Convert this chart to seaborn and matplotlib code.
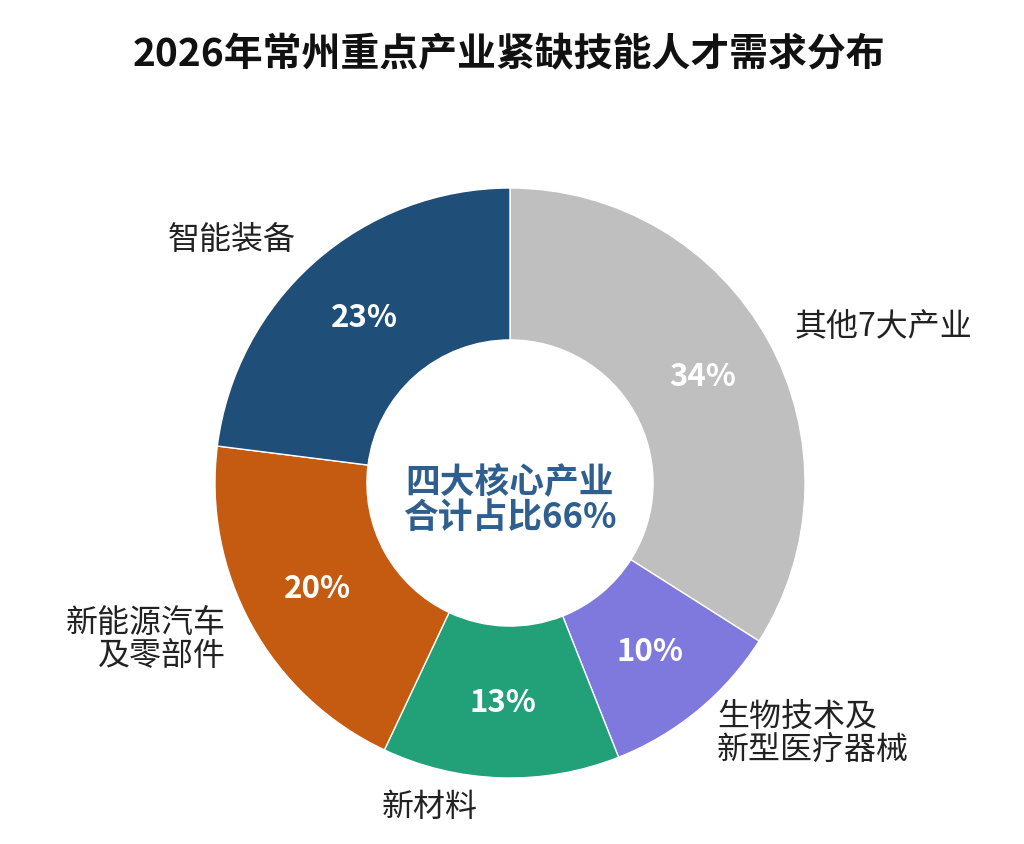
import matplotlib
matplotlib.use("Agg")
import matplotlib.pyplot as plt
import numpy as np
import seaborn as sns

# 数据（顺时针，从12点方向开始）
categories = ["其他7大产业", "生物技术及\n新型医疗器械", "新材料", "新能源汽车\n及零部件", "智能装备"]
shares = [34, 10, 13, 20, 23]
colors = ["#BFBFBF", "#8079DD", "#22A077", "#C55A11", "#1F4E79"]
title = "2026年常州重点产业紧缺技能人才需求分布"
center_text = "四大核心产业\n合计占比66%"

sns.set_theme(style="white")
plt.rcParams["font.family"] = ["Noto Sans CJK SC", "DejaVu Sans"]

fig = plt.figure(figsize=(10.24, 8.44), dpi=100)
ax = fig.add_axes([0, 0, 1, 1])

cx, cy, r = 510, 844 - 483, 295
wedges, texts, autotexts = ax.pie(
    shares,
    labels=categories,
    colors=colors,
    startangle=90,
    counterclock=False,
    center=(cx, cy),
    radius=r,
    labeldistance=1.1,
    autopct="%d%%",
    pctdistance=0.745,
    wedgeprops=dict(width=r * 0.515, edgecolor="white", linewidth=1),
    textprops=dict(fontsize=23, color="#222222"),
)
for t in autotexts:
    t.set_color("white")
    t.set_fontweight("bold")
    t.set_fontsize(22.5)

# pie 的对齐方式按 x 的符号定，中心不在原点时需要自己改
for t in texts:
    t.set_linespacing(1.05)
    x, y = t.get_position()
    side = "right" if x < cx else "left"
    t.set_horizontalalignment(side)
    t.set_multialignment(side)
    if t.get_text() == "新材料":
        t.set_position((x - 22, y))

ax.text(cx, cy - 17, center_text, ha="center", va="center", fontsize=25,
        fontweight="bold", color="#2E5F8E", linespacing=1.0)

ax.set_xlim(0, 1024)
ax.set_ylim(0, 844)
ax.set_aspect("equal")
ax.axis("off")

fig.text(0.497, 0.935, title, ha="center", va="center", fontsize=28,
         fontweight="bold", color="#111111")

fig.savefig("out.png", dpi=100, facecolor="white")
